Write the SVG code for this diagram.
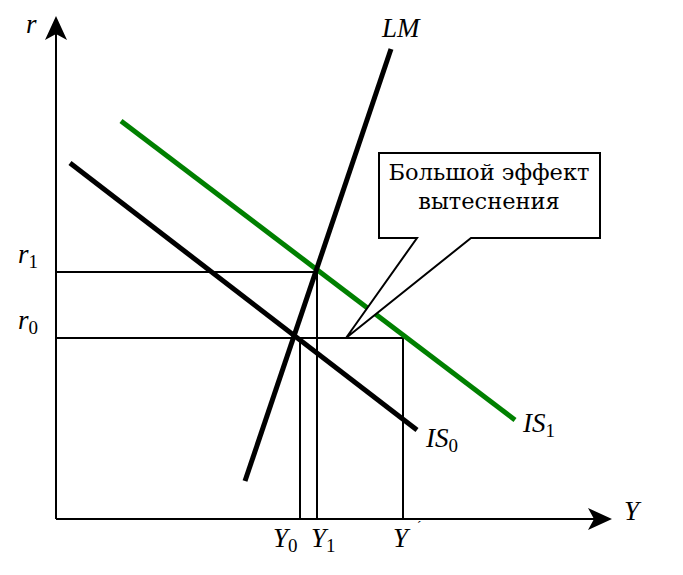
<svg xmlns="http://www.w3.org/2000/svg" width="683" height="575" viewBox="0 0 683 575">
<style>
.lab{font-family:"Liberation Serif",serif;font-style:italic;font-size:27px;fill:#000}
.sub{font-style:normal;font-size:19px}
.thin{stroke:#000;stroke-width:2;fill:none}
.thick{stroke-width:5;fill:none;stroke-linecap:butt}
.box{font-family:"DejaVu Serif",serif;font-size:22.5px;fill:#000}
</style>
<rect width="683" height="575" fill="#fff"/>
<g id="connectors">
<line class="thin" x1="56" y1="519" x2="56" y2="30"/>
<path d="M56,16 L67,40 L56,34 L45,40 Z" fill="#000"/>
<line class="thin" x1="56" y1="519" x2="600" y2="519"/>
<path d="M612,519 L588,508 L594,519 L588,530 Z" fill="#000"/>
<polyline class="thin" points="56,272 317,272 317,519"/>
<polyline class="thin" points="56,338 403,338 403,519"/>
<line class="thin" x1="300" y1="338" x2="300" y2="519"/>
</g>
<g id="IS1"><line class="thick" stroke="#008000" x1="121" y1="121" x2="515" y2="420"/>
<text class="lab" x="523" y="432">IS<tspan class="sub" dy="5">1</tspan></text></g>
<g id="IS0"><line class="thick" stroke="#000" x1="70" y1="163" x2="417" y2="430"/>
<text class="lab" x="426" y="447">IS<tspan class="sub" dy="5">0</tspan></text></g>
<g id="LM"><line class="thick" stroke="#000" x1="245" y1="481" x2="391" y2="49"/>
<text class="lab" x="382" y="37">LM</text></g>
<g id="callout">
<path d="M379,153 L600,153 L600,238 L471,238 L346,338 L417,238 L379,238 Z" fill="#fff" stroke="#000" stroke-width="2"/>
<text class="box" x="489" y="180" text-anchor="middle">Большой эффект</text>
<text class="box" x="489" y="209" text-anchor="middle">вытеснения</text>
</g>
<g id="labels">
<text class="lab" x="26" y="33">r</text>
<text class="lab" x="18" y="263">r<tspan class="sub" dy="5">1</tspan></text>
<text class="lab" x="18" y="329">r<tspan class="sub" dy="5">0</tspan></text>
<text class="lab" x="624" y="520">Y</text>
<text class="lab" x="273" y="547">Y<tspan class="sub" dy="5">0</tspan></text>
<text class="lab" x="311" y="547">Y<tspan class="sub" dy="5">1</tspan></text>
<text class="lab" x="393" y="547">Y</text>
<text x="417" y="530" font-family="Liberation Serif,serif" font-size="13">´</text>
</g>
</svg>
